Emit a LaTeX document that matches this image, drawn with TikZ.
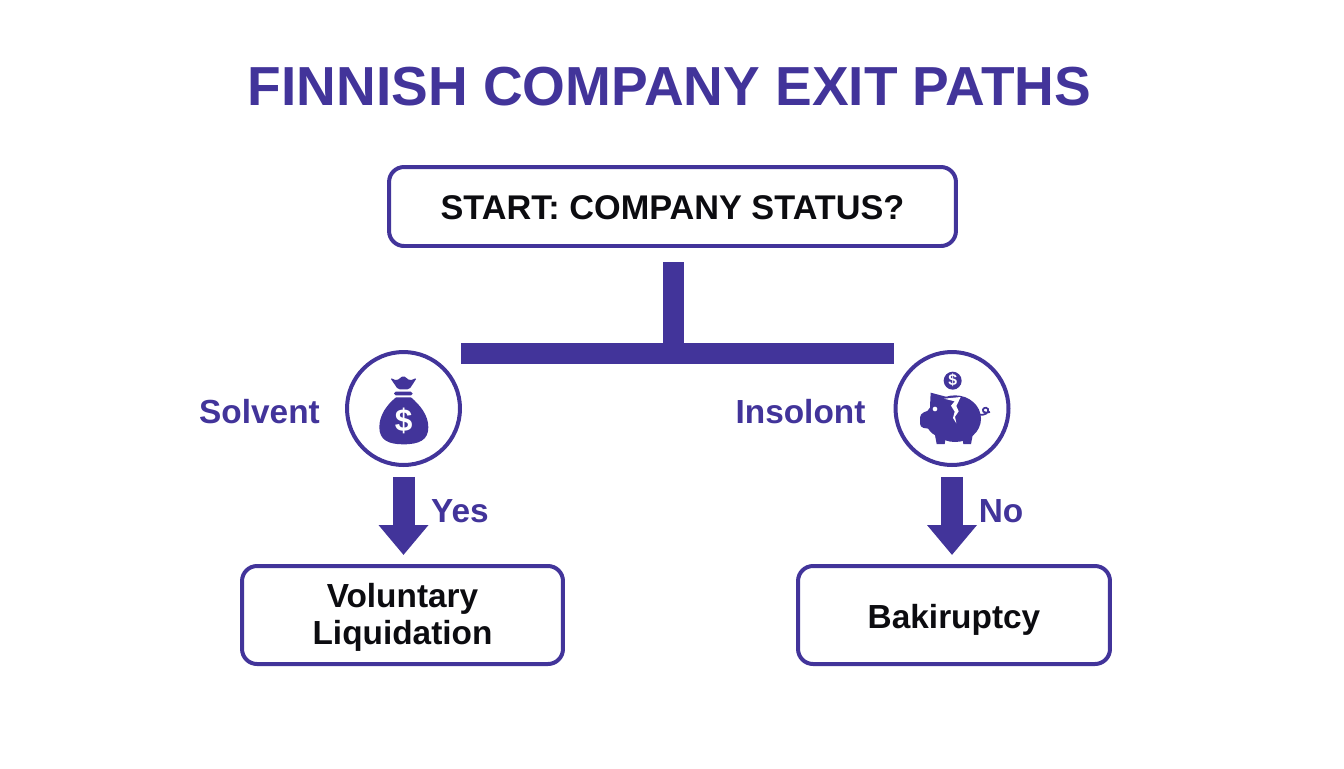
\documentclass[tikz,border=0pt]{standalone}
\usepackage{xcolor}
\usepackage{fontspec}
\setmainfont{Liberation Sans}
\usetikzlibrary{arrows.meta}
\definecolor{exitblue}{HTML}{42349A}
\definecolor{inkblack}{HTML}{0C0C10}
\tikzset{
    statusbox/.style={draw=exitblue, line width=0.08cm, rounded corners=0.3cm, align=center, inner sep=0pt,
        text=inkblack, font=\fontsize{19}{21}\selectfont\bfseries},
    iconring/.style={draw=exitblue, line width=0.08cm, circle, minimum size=2.26cm, inner sep=0pt},
    sidelabel/.style={text=exitblue, inner sep=0pt, font=\fontsize{19}{21}\selectfont\bfseries},
    barline/.style={draw=exitblue, line width=0.42cm},
    flowarrow/.style={draw=exitblue, line width=0.44cm, -{Triangle[length=0.6cm, width=0.96cm]}},
    iconcoin/.style={text=white, inner sep=0pt}
}

\begin{document}
\begin{tikzpicture}[x=0.02cm, y=-0.02cm]
    \useasboundingbox (0,0) rectangle (1344,768);

    % Title
    \node[text=exitblue, inner sep=0pt, font=\fontsize{31.3}{34}\selectfont\bfseries] (title) at (669.5,87) {FINNISH COMPANY EXIT PATHS};

    % Boxes
    \node[statusbox, minimum width=11.34cm, minimum height=1.58cm, text height=14.8pt, text depth=0pt, font=\fontsize{19.5}{21}\selectfont\bfseries] (startbox) at (672.5,206.5) {START: COMPANY STATUS?};
    \node[statusbox, minimum width=6.42cm, minimum height=1.96cm, text height=34pt, text depth=0pt] (voluntarybox) at (402.5,615) {Voluntary\\Liquidation};
    \node[statusbox, minimum width=6.24cm, minimum height=1.96cm, text height=15.4pt, text depth=0pt] (bankruptbox) at (954,615) {Bakiruptcy};

    % Icon rings
    \node[iconring] (solventring) at (403.5,408.5) {};
    \node[iconring] (insolventring) at (952,408.5) {};

    % Side labels
    \node[sidelabel] (solventlabel) at (259.5,412) {Solvent};
    \node[sidelabel] (insolventlabel) at (800.5,412) {Insolont};
    \node[sidelabel] (yeslabel) at (460,511) {Yes};
    \node[sidelabel] (nolabel) at (1001,511) {No};

    % T-shaped split
    \coordinate (stemtop) at (673.5,262);
    \coordinate (barleft) at (461,353);
    \coordinate (barright) at (894,353);
    \draw[barline] (stemtop) -- (stemtop |- barleft);
    \draw[barline] (barleft) -- (barright);

    % Arrows
    \draw[flowarrow, shorten <=0.2cm, shorten >=0.18cm] (solventring.south) -- (solventring.south |- voluntarybox.north);
    \draw[flowarrow, shorten <=0.2cm, shorten >=0.18cm] (insolventring.south) -- (insolventring.south |- bankruptbox.north);

    % Money bag
    \begin{scope}[shift={(330,340)}, x=0.00667cm, y=-0.00667cm]
        \fill[exitblue, rounded corners=1pt] (180,113) -- (200,122) -- (220,107) -- (240,122) -- (261,113) -- (238,148) -- (204,148) -- cycle;
        \fill[exitblue, rounded corners=1pt] (192,155) rectangle (248,166);
        \fill[exitblue] (198,172) .. controls (170,195) and (148,225) .. (148,262)
            .. controls (148,300) and (175,313) .. (220,313)
            .. controls (268,313) and (295,300) .. (295,262)
            .. controls (295,225) and (270,195) .. (243,172) -- cycle;
        \node[iconcoin, font=\fontsize{18}{18}\selectfont\bfseries] (bagdollar) at (221,243) {\$};
    \end{scope}

    % Cracked piggy bank
    \begin{scope}[shift={(880,340)}, x=0.00667cm, y=-0.00667cm]
        \fill[exitblue] (218,122) circle (27);
        \node[iconcoin, font=\fontsize{9}{9}\selectfont\bfseries] (pigdollar) at (218,122) {\$};
        \fill[exitblue] (225,236) ellipse (78 and 70);
        \fill[exitblue] (185,238) ellipse (48 and 52);
        \fill[exitblue] (152,158) -- (205,172) -- (165,240) -- (150,200) -- cycle;
        \fill[exitblue, rounded corners=2pt] (120,222) -- (160,205) -- (170,270) -- (120,262) -- cycle;
        \fill[exitblue] (163,275) -- (200,275) -- (194,312) -- (170,312) -- cycle;
        \fill[exitblue] (243,275) -- (280,275) -- (273,312) -- (250,312) -- cycle;
        \fill[white] (165,207) circle (7);
        \fill[white] (192,176) -- (242,171) -- (229,198) -- (236,214) -- (225,230) -- (229,250) -- (219,234) -- (224,215) -- (213,197) -- (224,184) -- cycle;
        \draw[exitblue, line width=0.035cm] (300,224) .. controls (312,226) and (328,220) .. (324,207) .. controls (318,198) and (304,206) .. (310,215) .. controls (314,220) and (322,218) .. (330,216);
    \end{scope}
\end{tikzpicture}
\end{document}
